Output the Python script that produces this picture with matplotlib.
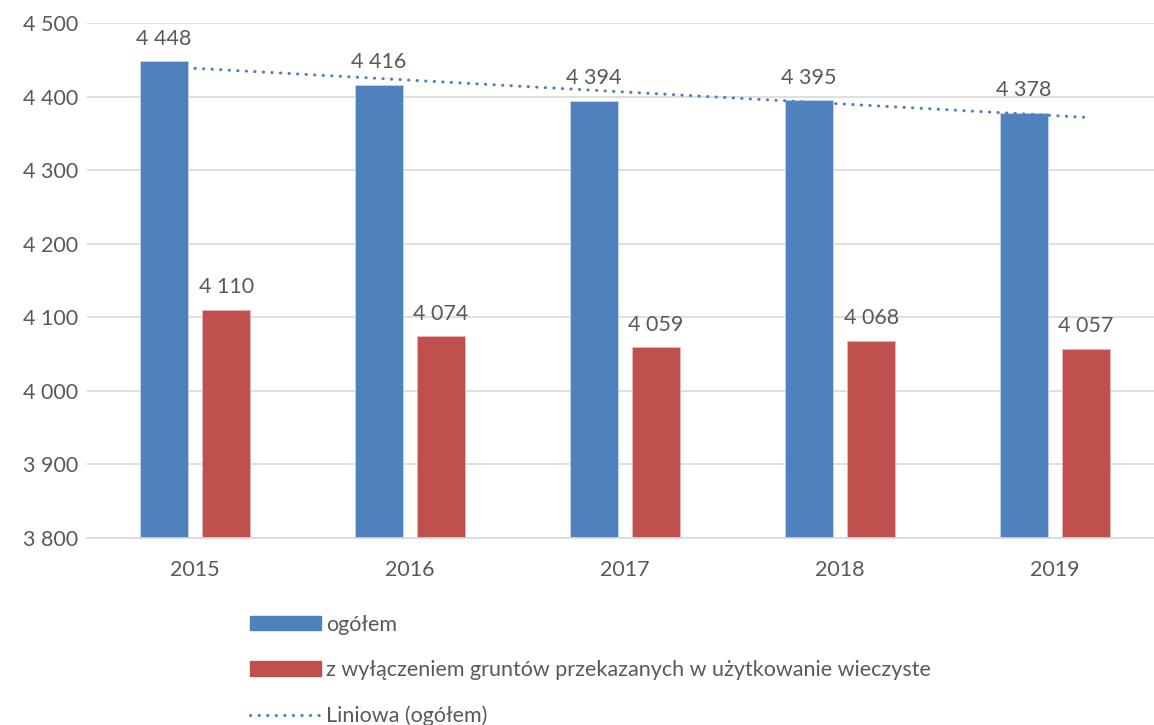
import matplotlib
matplotlib.use('Agg')
import matplotlib.pyplot as plt
import numpy as np
from matplotlib.patches import Patch
from matplotlib.lines import Line2D

plt.rcParams['font.family'] = ['Lato', 'DejaVu Sans']

years = ['2015', '2016', '2017', '2018', '2019']
ogolem = [4448, 4416, 4394, 4395, 4378]
bez_wieczystych = [4110, 4074, 4059, 4068, 4057]

blue = '#4F81BD'
red = '#C0504D'
txt = '#595959'
fs = 15.5
dots = (0, (0.1, 2.7))

def fmt(v):
    return f'{v:,.0f}'.replace(',', ' ')

fig = plt.figure(figsize=(11.54, 7.25), dpi=100)
ax = fig.add_axes([0.0758, 0.258, 0.9315, 0.7103])

x = np.arange(len(years))
w = 0.225
off = 0.145
b1 = ax.bar(x - off, ogolem, w, color=blue, edgecolor='#c6d6ec', linewidth=0.6, zorder=2)
b2 = ax.bar(x + off, bez_wieczystych, w, color=red, edgecolor='#e8b8b6', linewidth=0.6, zorder=2)

for bars, vals in [(b1, ogolem), (b2, bez_wieczystych)]:
    for rect, v in zip(bars, vals):
        ax.annotate(fmt(v), (rect.get_x() + rect.get_width() / 2, v), xytext=(0, 9),
                    textcoords='offset points', ha='center', va='bottom', fontsize=fs, color=txt)

# linear trend of the total series
k, c = np.polyfit(x, ogolem, 1)
xt = np.array([0, len(years) - 1 + 0.14])
ax.plot(xt, k * xt + c, linestyle=dots, color=blue, linewidth=2.2,
        dash_capstyle='round', zorder=3)

ax.set_ylim(3800, 4500)
ax.set_xlim(-0.5, len(years) - 0.5)
ax.set_yticks(np.arange(3800, 4501, 100))
ax.set_yticklabels([fmt(v) for v in np.arange(3800, 4501, 100)])
ax.set_xticks(x)
ax.set_xticklabels(years)
ax.tick_params(length=0, labelsize=fs, colors=txt, pad=16)
ax.tick_params(axis='y', pad=7)
ax.grid(axis='y', color='#D9D9D9', linewidth=1.2, zorder=0)
ax.set_axisbelow(True)
for s in ['top', 'right', 'left']:
    ax.spines[s].set_visible(False)
ax.spines['bottom'].set_color('#D9D9D9')
ax.spines['bottom'].set_linewidth(1.2)

handles = [
    Patch(color=blue),
    Patch(color=red),
    Line2D([], [], linestyle=dots, color=blue, linewidth=2.2, dash_capstyle='round'),
]
labels = ['ogółem', 'z wyłączeniem gruntów przekazanych w użytkowanie wieczyste', 'Liniowa (ogółem)']
fig.legend(handles, labels, loc='upper left', bbox_to_anchor=(0.2165, 0.152), frameon=False,
           fontsize=fs, labelcolor=txt, handlelength=3.3, handleheight=0.65,
           handletextpad=0.25, labelspacing=1.18, borderaxespad=0, borderpad=0)

fig.savefig('out.png', dpi=100)
